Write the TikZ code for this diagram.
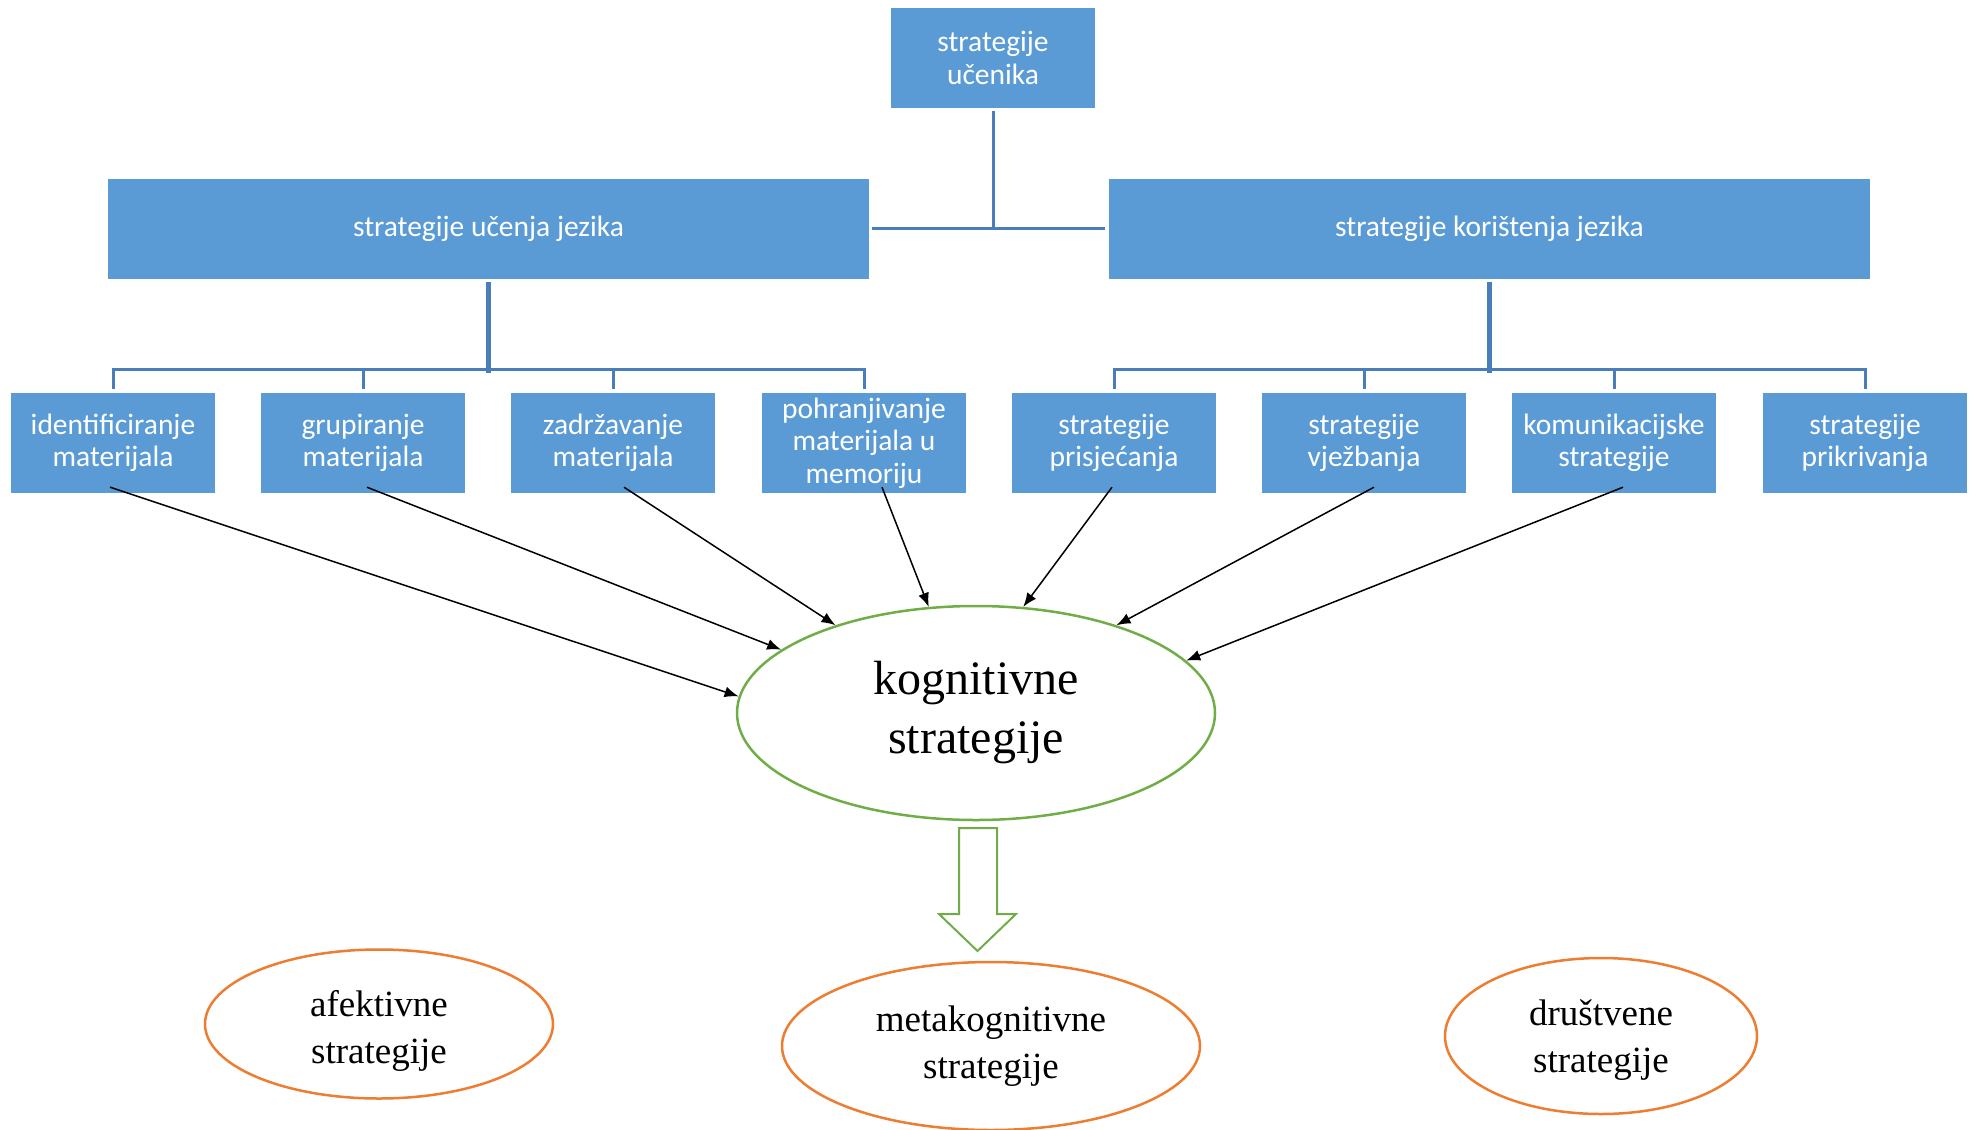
\documentclass[tikz,border=0pt]{standalone}
\usepackage{fontspec}
\setmainfont{Liberation Serif}
\newfontfamily\boxfont{Carlito}
\usepackage{tikz}
\usetikzlibrary{shapes.geometric,arrows.meta}
\definecolor{boxblue}{HTML}{5B9BD5}
\definecolor{lineblue}{HTML}{4A7EBB}
\definecolor{kgreen}{HTML}{70AD47}
\definecolor{korange}{HTML}{ED7D31}

\begin{document}
\begin{tikzpicture}[x=1pt,y=-1pt,
  blok/.style={fill=boxblue,text=white,inner sep=0pt,align=center,
    font=\boxfont\fontsize{29.5}{32.5}\selectfont},
  malblok/.style={blok,minimum width=204,minimum height=100},
  velblok/.style={blok,minimum width=761,minimum height=100},
  veza/.style={lineblue,line width=3pt},
  deblo/.style={lineblue,line width=5pt},
  strel/.style={-{Latex[length=14pt,width=11pt]},line width=1.5pt},
  kogel/.style={ellipse,draw=kgreen,line width=2.5pt,inner sep=0pt,align=center,
    minimum width=478,minimum height=214,font=\fontsize{48}{59}\selectfont},
  naranc/.style={ellipse,draw=korange,line width=2.5pt,inner sep=0pt,align=center,
    font=\fontsize{37}{47}\selectfont}]
\useasboundingbox (0,0) rectangle (1974,1130);
% top levels
\node[blok,minimum width=204,minimum height=100] (uc) at (993,58) {strategije\\učenika};
\node[velblok] (ucj) at (488.5,228.5) {strategije učenja jezika};
\node[velblok] (kor) at (1489.5,228.5) {strategije korištenja jezika};
% third level
\node[malblok] (ident) at (113,443) {identificiranje\\materijala};
\node[malblok] (grup) at (363,443) {grupiranje\\materijala};
\node[malblok] (zadr) at (613,443) {zadržavanje\\materijala};
\node[malblok] (pohr) at (864,443) {pohranjivanje\\materijala u\\memoriju};
\node[malblok] (pris) at (1114,443) {strategije\\prisjećanja};
\node[malblok] (vjez) at (1364,443) {strategije\\vježbanja};
\node[malblok] (komu) at (1614,443) {komunikacijske\\strategije};
\node[malblok] (prik) at (1865,443) {strategije\\prikrivanja};
% ellipses
\node[kogel] (kog) at (976,713) {kognitivne\\strategije};
\node[naranc,minimum width=348,minimum height=149] (afe) at (379,1024) {\rule{0pt}{40pt}afektivne\\strategije};
\node[naranc,minimum width=418,minimum height=168] (meta) at (991,1046) {metakognitivne\\strategije};
\node[naranc,minimum width=312,minimum height=156] (drus) at (1601,1036) {\rule{0pt}{34pt}društvene\\strategije};
% tree lines
\coordinate (j0) at (993,230);
\draw[veza] ([yshift=-3]uc.south) -- (j0);
\draw[veza] ([xshift=3]ucj.east) -- ([xshift=-4]kor.west);
\draw[deblo] ([yshift=-3]ucj.south) -- ([yshift=-3]ucj.south |- 0,370);
\draw[deblo] ([yshift=-3]kor.south) -- ([yshift=-3]kor.south |- 0,370);
\draw[veza] ([yshift=4]ident.north) -- ++(0,-19) -| ([yshift=4]pohr.north);
\draw[veza] ([yshift=4]grup.north) -- ++(0,-19);
\draw[veza] ([yshift=4]zadr.north) -- ++(0,-19);
\draw[veza] ([yshift=4]pris.north) -- ++(0,-19) -| ([yshift=4]prik.north);
\draw[veza] ([yshift=4]vjez.north) -- ++(0,-19);
\draw[veza] ([yshift=4]komu.north) -- ++(0,-19);
% arrows into kognitivne
\draw[strel] ([xshift=-3,yshift=6]ident.south) -- (kog.176);
\draw[strel] ([xshift=4,yshift=6]grup.south) -- (kog.162);
\draw[strel] ([xshift=11,yshift=6]zadr.south) -- (kog.148);
\draw[strel] ([xshift=18,yshift=6]pohr.south) -- (kog.114);
\draw[strel] ([xshift=-2,yshift=6]pris.south) -- (kog.66);
\draw[strel] ([xshift=10,yshift=6]vjez.south) -- (kog.32);
\draw[strel] ([xshift=9,yshift=6]komu.south) -- (kog.14);
% block arrow
\draw[kgreen,line width=2pt,fill=white] (959,828) -- (997,828) -- (997,914) -- (1016,914)
  -- (977.5,951) -- (939,914) -- (959,914) -- cycle;
\end{tikzpicture}
\end{document}
